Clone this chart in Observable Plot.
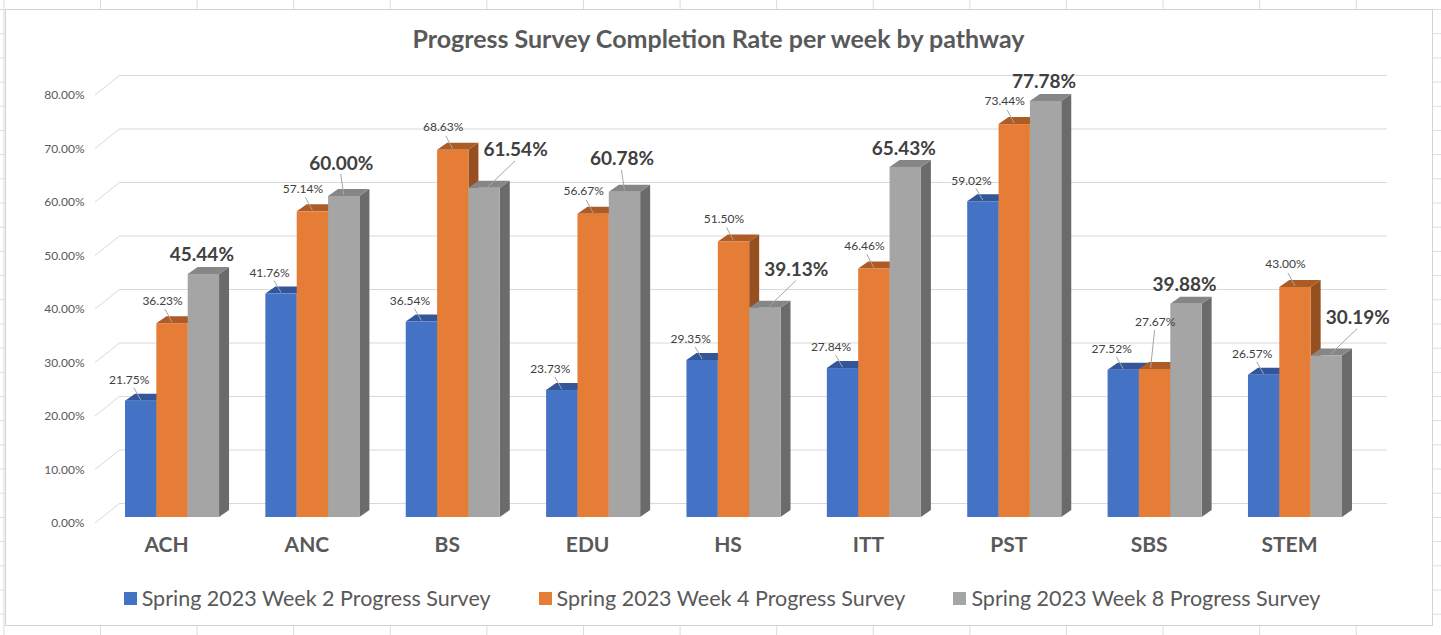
<!DOCTYPE html>
<html>
<head>
<meta charset="utf-8">
<script src="https://cdn.jsdelivr.net/npm/d3@7"></script>
<script src="https://cdn.jsdelivr.net/npm/@observablehq/plot@0.6"></script>
<style>
html, body { margin: 0; padding: 0; background: #fff; }
#page {
  position: relative; width: 1441px; height: 635px; overflow: hidden;
  font-family: Lato, "Open Sans", sans-serif;
  background-color: #fff;
  background-image: linear-gradient(to right, #dcdcdc 1px, transparent 1px),
                    linear-gradient(to bottom, #dcdcdc 1px, transparent 1px);
  background-size: 96.6px 24.2px;
  background-position: 100px 9px;
}
#chartArea { position: absolute; left: 5px; top: 9px; width: 1426px; height: 615px; background: #fff; border: 1px solid #d4d4d4; }
#title { position: absolute; left: 5px; width: 1427px; top: 23px; line-height: 30px; text-align: center; font-weight: 700; font-size: 25px; color: #595959; }
#plot { position: absolute; left: 0; top: 0; }
#legend { position: absolute; left: 0; width: 1444px; top: 584px; line-height: 28px; display: flex; justify-content: center; gap: 48px; font-size: 21.5px; color: #595959; }
#legend .item { display: flex; align-items: center; }
#legend .sw { display: inline-block; width: 13px; height: 13px; margin-right: 5px; }
</style>
</head>
<body>
<div id="page">
  <div id="chartArea"></div>
  <div id="title">Progress Survey Completion Rate per week by pathway</div>
  <div id="plot"></div>
  <div id="legend"></div>
</div>
<script>
// ---- data ----
const pathways = ["ACH", "ANC", "BS", "EDU", "HS", "ITT", "PST", "SBS", "STEM"];
const seriesNames = [
  "Spring 2023 Week 2 Progress Survey",
  "Spring 2023 Week 4 Progress Survey",
  "Spring 2023 Week 8 Progress Survey"
];
const week2 = [21.75, 41.76, 36.54, 23.73, 29.35, 27.84, 59.02, 27.52, 26.57];
const week4 = [36.23, 57.14, 68.63, 56.67, 51.50, 46.46, 73.44, 27.67, 43.00];
const week8 = [45.44, 60.00, 61.54, 60.78, 39.13, 65.43, 77.78, 39.88, 30.19];
const yTicks = [0, 10, 20, 30, 40, 50, 60, 70, 80];

// ---- styles ----
const frontColors = ["#4472C4", "#E67D36", "#A5A5A5"];
const topColors = ["#33569a", "#ad5c25", "#868686"];
const sideColors = ["#2b4a86", "#96501f", "#6b6b6b"];
const fmt = v => v.toFixed(2) + "%";

const seriesValues = [week2, week4, week8];
const rows = [];
seriesValues.forEach((vals, s) =>
  pathways.forEach((p, i) => rows.push({pathway: p, series: seriesNames[s], s, value: vals[i], w2: week2[i], w4: week4[i]}))
);

// ---- layout ----
const W = 1441, H = 560, mT = 89, mB = 43, mL = 120, mR = 54;
const xRange = [125, 1342], padIn = 0.33;
const step = (xRange[1] - xRange[0]) / (pathways.length - padIn);
const bw = step * (1 - padIn);
const w = bw / 3;
const D = 10, E = 7; // depth of the 3D effect

function extrude(s) {
  return (index, scales) => {
    const x = scales.x, y = scales.y;
    const g = d3.create("svg:g");
    rows.filter(r => r.s === s).forEach(r => {
      const x0 = x(r.pathway) + s * w, x1 = x0 + w, yt = y(r.value), yb = y(0);
      g.append("polygon").attr("points", [[x1, yt], [x1 + D, yt - E], [x1 + D, yb - E], [x1, yb]].join(" ")).attr("fill", sideColors[s]);
      g.append("polygon").attr("points", [[x0, yt], [x0 + D, yt - E], [x1 + D, yt - E], [x1, yt]].join(" ")).attr("fill", topColors[s]);
    });
    return g.node();
  };
}

function leaders(data, s, a, b) {
  return (index, scales) => {
    const g = d3.create("svg:g").attr("stroke", "#a6a6a6").attr("stroke-width", 1);
    data.forEach(r => {
      const cx = scales.x(r.pathway) + s * w + w / 2, yt = scales.y(r.value);
      g.append("line").attr("x1", cx + a[0]).attr("y1", yt + a[1]).attr("x2", cx + b[0]).attr("y2", yt + b[1]);
    });
    return g.node();
  };
}

function connectors() {
  return (index, scales, values, dims) => {
    const left = (dims && dims.marginLeft != null) ? dims.marginLeft : mL;
    const g = d3.create("svg:g").attr("stroke", "#d9d9d9").attr("stroke-width", 1);
    yTicks.forEach(v => {
      const yy = scales.y(v);
      g.append("line").attr("x1", left - 25).attr("y1", yy + 6).attr("x2", left).attr("y2", yy - 14);
    });
    return g.node();
  };
}

const marks = [
  Plot.ruleY(yTicks, {y: d => d, dy: -14, stroke: "#d9d9d9", strokeWidth: 1}),
  connectors(),
  Plot.text(yTicks, {y: d => d, text: d => fmt(d), frameAnchor: "left", dx: -36, dy: 6, textAnchor: "end", fontSize: 12, fill: "#595959"}),
  Plot.text(pathways, {x: d => d, text: d => d, frameAnchor: "bottom", dx: -6, dy: 34, fontSize: 21, fontWeight: "bold", fill: "#595959"})
];

[0, 1, 2].forEach(s => {
  marks.push(extrude(s));
  marks.push(Plot.barY(rows.filter(r => r.s === s), {
    x: "pathway", y: "value", fill: frontColors[s],
    insetLeft: s * w, insetRight: (2 - s) * w
  }));
});

const smallText = {fontSize: 12, fill: "#404040"};
const bigText = {fontSize: 19, fontWeight: "bold", fill: "#404040"};

// week 2 labels
const w2 = rows.filter(r => r.s === 0);
marks.push(leaders(w2, 0, [-7, -13], [0, -1]));
marks.push(Plot.text(w2, {x: "pathway", y: "value", text: d => fmt(d.value), dx: w / 2 - bw / 2 - 12, dy: -21, ...smallText}));

// week 4 labels (raised when too close to the week 2 label)
const w4 = rows.filter(r => r.s === 1);
const w4Normal = w4.filter(r => r.value - r.w2 >= 2.6);
const w4Raised = w4.filter(r => r.value - r.w2 < 2.6);
marks.push(leaders(w4Normal, 1, [-7, -14], [0, -1]));
marks.push(Plot.text(w4Normal, {x: "pathway", y: "value", text: d => fmt(d.value), dx: 1.5 * w - bw / 2 - 10, dy: -23, ...smallText}));
marks.push(leaders(w4Raised, 1, [0, -39], [-4, -1]));
marks.push(Plot.text(w4Raised, {x: "pathway", y: "value", text: d => fmt(d.value), dx: 1.5 * w - bw / 2, dy: -47, ...smallText}));

// week 8 big labels
const w8 = rows.filter(r => r.s === 2);
const w8Up = w8.filter(r => r.value - r.w4 >= 4.2);
const w8High = w8.filter(r => r.value >= r.w4 && r.value - r.w4 < 4.2);
const w8Side = w8.filter(r => r.value < r.w4);
marks.push(Plot.text(w8Up, {x: "pathway", y: "value", text: d => fmt(d.value), dx: 2.5 * w - bw / 2 - 2, dy: -19, ...bigText}));
marks.push(leaders(w8High, 2, [-3, -22], [0, -1]));
marks.push(Plot.text(w8High, {x: "pathway", y: "value", text: d => fmt(d.value), dx: 2.5 * w - bw / 2 - 3, dy: -33, ...bigText}));
marks.push(leaders(w8Side, 2, [31, -27], [4, -1]));
marks.push(Plot.text(w8Side, {x: "pathway", y: "value", text: d => fmt(d.value), dx: 2.5 * w - bw / 2 + 31, dy: -38, ...bigText}));

const chart = Plot.plot({
  width: W, height: H,
  marginTop: mT, marginBottom: mB, marginLeft: mL, marginRight: mR,
  x: {type: "band", domain: pathways, range: xRange, paddingInner: padIn, paddingOuter: 0, round: false, axis: null},
  y: {domain: [0, 80], axis: null},
  style: {background: "transparent", fontFamily: "Lato, 'Open Sans', sans-serif", overflow: "visible"},
  marks
});
document.getElementById("plot").appendChild(chart);

// legend
const legend = d3.select("#legend");
seriesNames.forEach((name, s) => {
  const item = legend.append("div").attr("class", "item");
  item.append("span").attr("class", "sw").style("background", frontColors[s]);
  item.append("span").text(name);
});
</script>
</body>
</html>
